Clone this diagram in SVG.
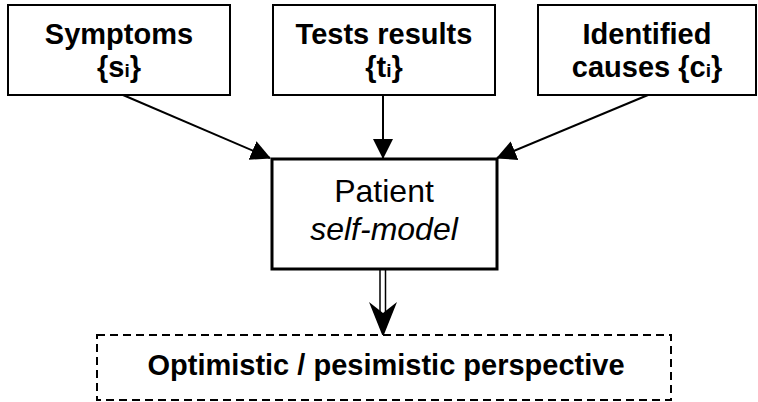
<svg xmlns="http://www.w3.org/2000/svg" width="758" height="402" viewBox="0 0 758 402">
<defs>
<style>
.box{fill:#fff;stroke:#000;stroke-width:2}
.main{fill:#fff;stroke:#000;stroke-width:3}
.dash{fill:#fff;stroke:#000;stroke-width:2;stroke-dasharray:8 5}
.b{font-family:"Liberation Sans",Arial,sans-serif;font-weight:bold;font-size:29px;fill:#000;text-anchor:middle}
.r{font-family:"Liberation Sans",Arial,sans-serif;font-size:32px;fill:#000;text-anchor:middle}
.sub{font-size:19px}
.conn{stroke:#000;stroke-width:2;fill:none}
</style>
<marker id="ah" markerUnits="userSpaceOnUse" markerWidth="20" markerHeight="22" refX="19" refY="10" orient="auto" viewBox="0 0 20 20">
<path d="M0,0 L20,10 L0,20 Z" fill="#000"/>
</marker>
</defs>
<rect width="758" height="402" fill="#fff"/>
<g id="connectors">
<line class="conn" x1="123" y1="95" x2="270" y2="158" marker-end="url(#ah)"/>
<line class="conn" x1="383" y1="95" x2="383" y2="158" marker-end="url(#ah)"/>
<line class="conn" x1="648" y1="95" x2="497" y2="158" marker-end="url(#ah)"/>
<line x1="380" y1="270" x2="380" y2="312" stroke="#000" stroke-width="1.5"/>
<line x1="385.5" y1="270" x2="385.5" y2="312" stroke="#000" stroke-width="1.5"/>
<path d="M369,302 L383,313 L397,302 L383,337 Z" fill="#000"/>
</g>
<g id="symptoms">
<rect class="box" x="8" y="5" width="222" height="90"/>
<text class="b" x="119" y="44">Symptoms</text>
<text class="b" x="119" y="77">{s<tspan class="sub">i</tspan>}</text>
</g>
<g id="tests">
<rect class="box" x="273" y="5" width="222" height="90"/>
<text class="b" x="384" y="44">Tests results</text>
<text class="b" x="384" y="77">{t<tspan class="sub">i</tspan>}</text>
</g>
<g id="causes">
<rect class="box" x="538" y="5" width="218" height="90"/>
<text class="b" x="647" y="44">Identified</text>
<text class="b" x="647" y="77">causes {c<tspan class="sub">i</tspan>}</text>
</g>
<g id="patient">
<rect class="main" x="272" y="159" width="225" height="110"/>
<text class="r" x="384" y="202">Patient</text>
<text class="r" x="384" y="240" font-style="italic">self-model</text>
</g>
<g id="perspective">
<rect class="dash" x="97" y="335" width="574" height="65"/>
<text class="b" x="386" y="375">Optimistic / pesimistic perspective</text>
</g>
</svg>
